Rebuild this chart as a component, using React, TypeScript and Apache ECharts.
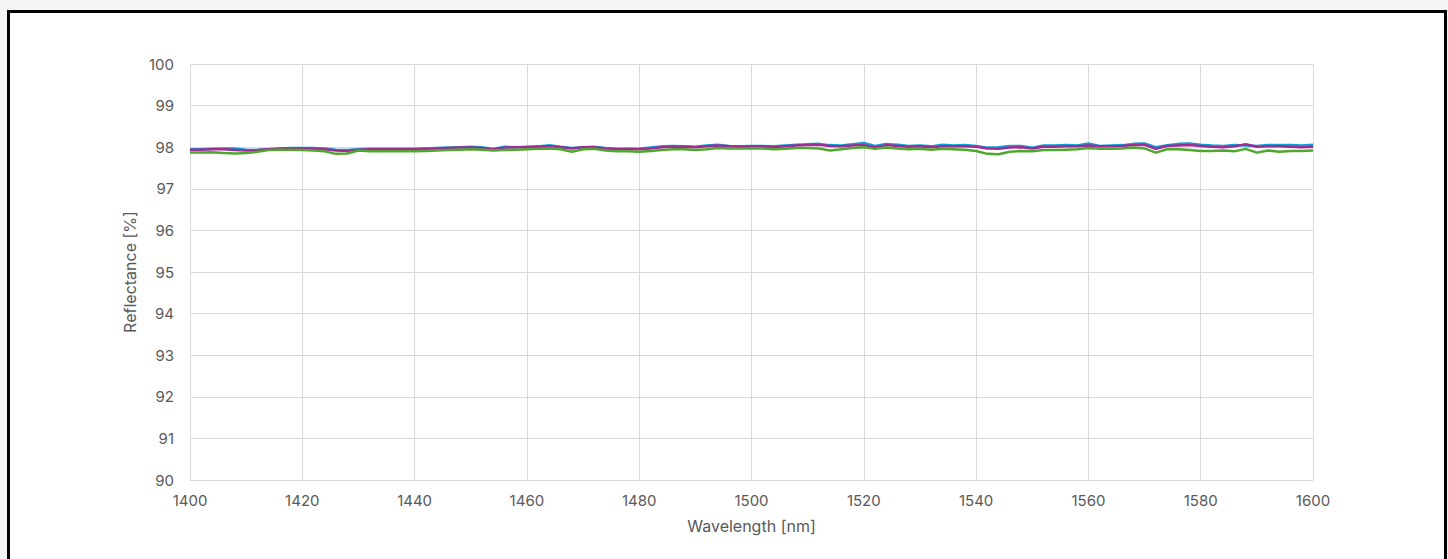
import React, { useEffect, useRef } from "react";
import * as echarts from "echarts";

const wavelengthStart = 1400;
const wavelengthStep = 2;

const seriesNames = ["Sample 1", "Sample 2", "Sample 3"];

const blueValues = [
  97.95, 97.95, 97.96, 97.97, 97.97, 97.94, 97.93, 97.95, 97.97, 97.98, 97.98,
  97.98, 97.97, 97.94, 97.93, 97.95, 97.96, 97.96, 97.96, 97.96, 97.96,
  97.97, 97.98, 97.99, 98.0, 98.01, 98.0, 97.96, 98.01, 98.0, 98.01,
  98.02, 98.05, 98.01, 97.98, 98.0, 98.01, 97.98, 97.96, 97.97, 97.96,
  97.99, 98.02, 98.03, 98.02, 98.01, 98.04, 98.06, 98.03, 98.02, 98.03,
  98.03, 98.02, 98.04, 98.06, 98.07, 98.08, 98.05, 98.04, 98.07, 98.1,
  98.03, 98.08, 98.06, 98.03, 98.04, 98.02, 98.06, 98.04, 98.05, 98.03,
  97.99, 98.0, 98.03, 98.03, 97.99, 98.04, 98.04, 98.05, 98.04, 98.09,
  98.03, 98.04, 98.05, 98.08, 98.09, 98.0, 98.05, 98.08, 98.09, 98.06,
  98.04, 98.03, 98.05, 98.04, 98.03, 98.05, 98.05, 98.05, 98.04, 98.06,
];

const magentaValues = [
  97.94, 97.94, 97.95, 97.95, 97.93, 97.92, 97.93, 97.95, 97.96, 97.97, 97.97,
  97.96, 97.95, 97.92, 97.91, 97.94, 97.95, 97.95, 97.95, 97.95, 97.95,
  97.96, 97.97, 97.98, 97.99, 97.99, 97.98, 97.95, 97.99, 98.0, 98.0,
  98.01, 98.02, 98.0, 97.97, 98.0, 98.0, 97.97, 97.95, 97.95, 97.95,
  97.97, 98.0, 98.01, 98.01, 98.0, 98.02, 98.04, 98.02, 98.01, 98.02,
  98.02, 98.0, 98.02, 98.04, 98.05, 98.06, 98.03, 98.02, 98.04, 98.05,
  98.0, 98.05, 98.03, 98.01, 98.02, 98.0, 98.02, 98.02, 98.02, 98.01,
  97.97, 97.96, 97.99, 98.0, 97.97, 98.01, 98.01, 98.02, 98.02, 98.04,
  98.02, 98.02, 98.03, 98.05, 98.06, 97.96, 98.03, 98.04, 98.05, 98.03,
  98.01, 98.0, 98.02, 98.07, 98.01, 98.02, 98.02, 98.01, 98.0, 98.01,
];

const greenValues = [
  97.87, 97.87, 97.88, 97.86, 97.85, 97.86, 97.89, 97.93, 97.94, 97.94, 97.93,
  97.92, 97.9, 97.84, 97.85, 97.92, 97.9, 97.9, 97.9, 97.9, 97.9,
  97.91, 97.92, 97.93, 97.94, 97.95, 97.94, 97.92, 97.93, 97.94, 97.95,
  97.96, 97.97, 97.95, 97.89, 97.95, 97.96, 97.92, 97.9, 97.9, 97.89,
  97.91, 97.93, 97.95, 97.95, 97.93, 97.95, 97.98, 97.97, 97.97, 97.97,
  97.97, 97.95, 97.96, 97.98, 97.98, 97.97, 97.92, 97.95, 97.98, 98.0,
  97.96, 97.99, 97.97, 97.95, 97.96, 97.94, 97.96, 97.95, 97.94, 97.91,
  97.84, 97.83, 97.89, 97.91, 97.9, 97.93, 97.93, 97.94, 97.95, 97.98,
  97.96, 97.96, 97.97, 97.99, 97.97, 97.87, 97.95, 97.95, 97.93, 97.91,
  97.91, 97.92, 97.9, 97.96, 97.87, 97.92, 97.89, 97.91, 97.91, 97.92,
];

const seriesColors = ["#0F9ED5", "#A02B93", "#4EA72E"];

const toPairs = (vals: number[]) =>
  vals.map((v, i) => [wavelengthStart + i * wavelengthStep, v]);

export default function App() {
  const ref = useRef<HTMLDivElement>(null);
  useEffect(() => {
    if (!ref.current) return;
    const chart = echarts.init(ref.current, null, { renderer: "svg" });
    const font = "Inter, 'Open Sans', sans-serif";
    const allVals = [blueValues, magentaValues, greenValues];
    chart.setOption({
      animation: false,
      grid: { left: 190, right: 135, top: 64, bottom: 79 },
      xAxis: {
        type: "value",
        min: 1400,
        max: 1600,
        interval: 20,
        name: "Wavelength [nm]",
        nameLocation: "middle",
        nameGap: 38,
        nameTextStyle: { color: "#595959", fontSize: 16, fontFamily: font },
        axisLine: { show: true, lineStyle: { color: "#d9d9d9" } },
        axisTick: { show: false },
        axisLabel: {
          color: "#595959",
          fontSize: 15,
          fontFamily: font,
          margin: 13,
          formatter: (v: number) => String(v),
        },
        splitLine: { show: true, lineStyle: { color: "#d9d9d9", width: 1 } },
      },
      yAxis: {
        type: "value",
        min: 90,
        max: 100,
        interval: 1,
        name: "Reflectance [%]",
        nameLocation: "middle",
        nameGap: 50,
        nameTextStyle: { color: "#595959", fontSize: 16, fontFamily: font },
        axisLine: { show: false },
        axisTick: { show: false },
        axisLabel: {
          color: "#595959",
          fontSize: 15,
          fontFamily: font,
          margin: 16,
          formatter: (v: number) => String(v),
        },
        splitLine: { show: true, lineStyle: { color: "#d9d9d9", width: 1 } },
      },
      series: allVals.map((vals, k) => ({
        name: seriesNames[k],
        type: "line",
        data: toPairs(vals),
        showSymbol: false,
        symbol: "none",
        lineStyle: { color: seriesColors[k], width: 2.5 },
        itemStyle: { color: seriesColors[k] },
      })),
    });
    return () => chart.dispose();
  }, []);
  return (
    <div
      style={{
        position: "fixed",
        left: 0,
        top: 0,
        width: 1448,
        height: 559,
        background: "#f3f4f6",
        overflow: "hidden",
      }}
    >
      <div
        style={{
          position: "absolute",
          left: 7,
          top: 10,
          width: 1440,
          height: 570,
          boxSizing: "border-box",
          border: "3px solid #000",
          background: "#fff",
        }}
      />
      <div
        ref={ref}
        style={{ position: "absolute", left: 0, top: 0, width: 1448, height: 559 }}
      />
    </div>
  );
}
